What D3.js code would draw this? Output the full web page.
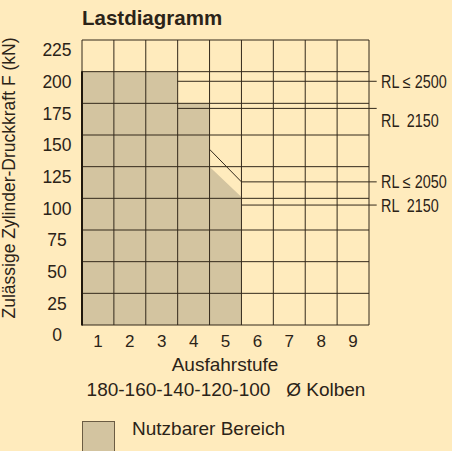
<!DOCTYPE html>
<html>
<head>
<meta charset="utf-8">
<script src="https://cdn.jsdelivr.net/npm/d3@7"></script>
<style>
  html, body { margin: 0; padding: 0; background: #ffebbd; }
  svg { display: block; }
  text { font-family: "Liberation Sans", Arial, sans-serif; fill: #2b2318; }
  .narrow { white-space: pre; }
</style>
</head>
<body>
<svg id="chart" width="452" height="451"></svg>
<script>
// stages (x) and force ticks (y)
const stufen = [1, 2, 3, 4, 5, 6, 7, 8, 9];
const forceTicks = [0, 25, 50, 75, 100, 125, 150, 175, 200, 225];

// usable area outline (stage boundary, kN)
const areaX = [0, 3, 3, 4, 4, 5, 5, 0];
const areaY = [200, 200, 175, 175, 125, 101, 0, 0];

// RL limit lines: points along the line + label
const rlLabels = ["RL ≤ 2500", "RL  2150", "RL ≤ 2050", "RL  2150"];
const rlX = [[3, 9], [3, 9], [4, 5, 9], [5, 9]];
const rlY = [[192.4, 192.4], [171, 171], [138.7, 113, 113], [94.7, 94.7]];
const rlLabelY = [192.4, 161.5, 113, 94];

const width = 452, height = 451,
      svg = d3.select("#chart"),
      lineColor = "#33291b",
      fillColor = "#d3c4a0";

const x = d3.scaleLinear().domain([0, 9]).range([82, 369]);
const y = d3.scaleLinear().domain([0, 225]).range([325, 40]);

// title
svg.append("text")
   .attr("x", 82).attr("y", 25)
   .attr("font-size", 20.5).attr("font-weight", "bold")
   .text("Lastdiagramm");

// usable area
svg.append("polygon")
   .attr("points", areaX.map((d, i) => [x(d), y(areaY[i])].join(",")).join(" "))
   .attr("fill", fillColor);

// grid
svg.selectAll("line.hgrid")
   .data(forceTicks)
   .join("line")
     .attr("class", "hgrid")
     .attr("x1", x(0)).attr("x2", x(9))
     .attr("y1", d => y(d)).attr("y2", d => y(d))
     .attr("stroke", lineColor).attr("stroke-width", 1);

svg.selectAll("line.vgrid")
   .data(d3.range(0, 10))
   .join("line")
     .attr("class", "vgrid")
     .attr("x1", d => x(d)).attr("x2", d => x(d))
     .attr("y1", y(0)).attr("y2", y(225))
     .attr("stroke", lineColor).attr("stroke-width", 1);

// left axis, heavier
svg.append("line")
   .attr("x1", x(0)).attr("x2", x(0))
   .attr("y1", y(0) + 0.5).attr("y2", y(200) - 0.5)
   .attr("stroke", "#1f170d").attr("stroke-width", 2);

// RL lines
const lineGen = d3.line();
const lineExt = 7.7; // lines run a bit past the grid
rlX.forEach((xs, i) => {
  const pts = xs.map((d, j) => [x(d) + (j === xs.length - 1 ? lineExt : 0), y(rlY[i][j])]);
  svg.append("path")
     .attr("d", lineGen(pts))
     .attr("fill", "none")
     .attr("stroke", lineColor).attr("stroke-width", 1);
  // condensed look: squeeze the label horizontally
  svg.append("text")
     .attr("class", "narrow")
     .attr("transform", `translate(381,${y(rlLabelY[i])}) scale(0.8,1)`)
     .attr("dy", "0.36em")
     .attr("font-size", 18)
     .text(rlLabels[i]);
});

// y tick labels (sit slightly under their grid line)
svg.selectAll("text.ytick")
   .data(forceTicks)
   .join("text")
     .attr("class", "ytick")
     .attr("x", 57).attr("y", d => y(d) + 10)
     .attr("dy", "0.36em")
     .attr("text-anchor", "middle")
     .attr("font-size", 17.5)
     .text(d => d);

// x tick labels
svg.selectAll("text.xtick")
   .data(stufen)
   .join("text")
     .attr("class", "xtick")
     .attr("x", d => x(d - 0.5)).attr("y", 341)
     .attr("dy", "0.36em")
     .attr("text-anchor", "middle")
     .attr("font-size", 17)
     .text(d => d);

// axis titles
svg.append("text")
   .attr("x", 225).attr("y", 371)
   .attr("text-anchor", "middle")
   .attr("font-size", 19)
   .text("Ausfahrstufe");

svg.append("text")
   .attr("x", 226).attr("y", 396)
   .attr("text-anchor", "middle")
   .attr("font-size", 19)
   .style("white-space", "pre")
   .text("180-160-140-120-100   Ø Kolben");

svg.append("text")
   .attr("transform", "translate(15,178) rotate(-90)")
   .attr("text-anchor", "middle")
   .attr("font-size", 17.5)
   .text("Zulässige Zylinder-Druckkraft F (kN)");

// legend
svg.append("rect")
   .attr("x", 82.5).attr("y", 421.5)
   .attr("width", 32).attr("height", 40)
   .attr("fill", fillColor)
   .attr("stroke", "#6b5c43").attr("stroke-width", 1);

svg.append("text")
   .attr("x", 132).attr("y", 435)
   .attr("font-size", 19)
   .text("Nutzbarer Bereich");
</script>
</body>
</html>
